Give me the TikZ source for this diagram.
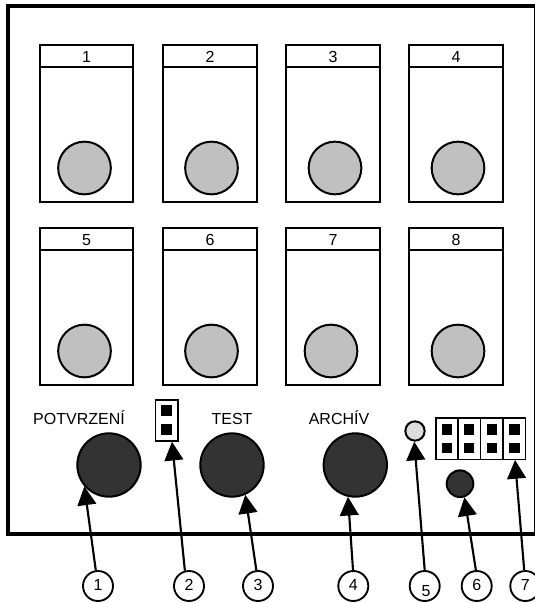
\documentclass[tikz,border=0pt]{standalone}
\usepackage{fontspec}
\setmainfont{Liberation Sans}
\usetikzlibrary{arrows.meta}
\definecolor{btndark}{HTML}{333333}
\definecolor{knobgray}{HTML}{C0C0C0}
\definecolor{ledgray}{HTML}{DDDDDD}
\tikzset{
  slotbox/.style={draw=black,fill=white,line width=1.5pt,minimum width=70pt,minimum height=118.3pt,inner sep=0pt},
  slothead/.style={draw=black,fill=white,line width=1.5pt,minimum width=70pt,minimum height=16.5pt,inner sep=0pt,text height=9pt,text depth=0pt,font=\fontsize{12}{12}\selectfont},
  knob/.style={circle,draw=black,fill=knobgray,line width=1.5pt,minimum size=39.5pt,inner sep=0pt},
  bigbtn/.style={circle,draw=black,fill=btndark,line width=1.5pt,minimum size=47.5pt,inner sep=0pt},
  smallbtn/.style={circle,draw=black,fill=btndark,line width=1.5pt,minimum size=20pt,inner sep=0pt},
  led/.style={circle,draw=black,fill=ledgray,line width=1.5pt,minimum size=14.5pt,inner sep=0pt},
  callout/.style={circle,draw=black,fill=white,line width=1.4pt,minimum size=22.5pt,inner sep=0pt,text height=7pt,text depth=0pt,font=\fontsize{12}{12}\selectfont},
  caption/.style={anchor=base,inner sep=0pt,font=\fontsize{12}{12}\selectfont},
  pinbox/.style={draw=black,fill=white,line width=1.3pt,inner sep=0pt},
  pin/.style={fill=black,minimum size=8pt,inner sep=0pt},
  pointer/.style={line width=1.6pt,-{Triangle[length=14pt,width=14pt]}}
}
\begin{document}
\begin{tikzpicture}[x=0.75pt,y=-0.75pt]
\clip (0,0) rectangle (535,603);
\fill[white] (0,0) rectangle (535,603);
\node[draw=black,line width=3.2pt,minimum width=395.8pt,minimum height=396.2pt,inner sep=0pt] (frame) at (272,270.2) {};
% slots, row 1
\foreach \n/\x/\kx in {1/86.5/84.5,2/210/211.5,3/333/335,4/456/458}{
  \node[slotbox] (s\n) at (\x,123.5) {};
  \node[slothead] (h\n) at (\x,56) {\n};
  \node[knob] (k\n) at (\kx,168) {};
}
% slots, row 2
\foreach \n/\x/\kx in {5/86.5/84.5,6/210/211.5,7/333/331,8/456/458}{
  \node[slotbox] (s\n) at (\x,306.5) {};
  \node[slothead] (h\n) at (\x,239) {\n};
  \node[knob] (k\n) at (\kx,351) {};
}
% captions
\node[caption] (tp) at (79,424) {POTVRZENÍ};
\node[caption] (tt) at (232,424) {TEST};
\node[caption] (ta) at (339,424) {ARCHÍV};
% buttons
\node[bigbtn] (b1) at (109,465) {};
\node[bigbtn] (b3) at (232,465) {};
\node[bigbtn] (b4) at (355.3,465) {};
\node[smallbtn] (b6) at (460,483.7) {};
\node[led] (l5) at (415,431) {};
% jumper
\node[pinbox,minimum width=16.8pt,minimum height=31pt] (j) at (166.8,420.5) {};
\node[pin] (jp1) at (166.8,410.5) {};
\node[pin] (jp2) at (166.8,429.5) {};
% pin block
\foreach \n/\x/\px in {1/447/447,2/469.4/469,3/491.8/492,4/514.3/514.7}{
  \node[pinbox,minimum width=16.9pt,minimum height=31pt] (q\n) at (\x,438.8) {};
  \node[pin] (qa\n) at (\px,429.3) {};
  \node[pin] (qb\n) at (\px,448) {};
}
\coordinate (t2) at (172,441.8);
\coordinate (t7) at (515,460);
% callouts
\node[callout] (c1) at (98,586) {1};
\node[callout] (c2) at (189,586) {2};
\node[callout] (c3) at (258,586) {3};
\node[callout] (c4) at (353.3,586) {4};
\node[callout] (c5) at (424.7,586) {};
\node[caption] (n5) at (426,596) {5};
\node[callout] (c6) at (476.7,586) {6};
\node[callout] (c7) at (525.3,586) {7};
% pointers
\draw[pointer] (c1.98) -- (b1.221);
\draw[pointer] (c2.105) -- (t2);
\draw[pointer] (c3.96) -- (b3.-66);
\draw[pointer] (c4.91) -- (b4.-103);
\draw[pointer] (c5.90) -- (l5.-94);
\draw[pointer] (c6.93) -- (b6.-72);
\draw[pointer] (c7.94) -- (t7);
\end{tikzpicture}
\end{document}
